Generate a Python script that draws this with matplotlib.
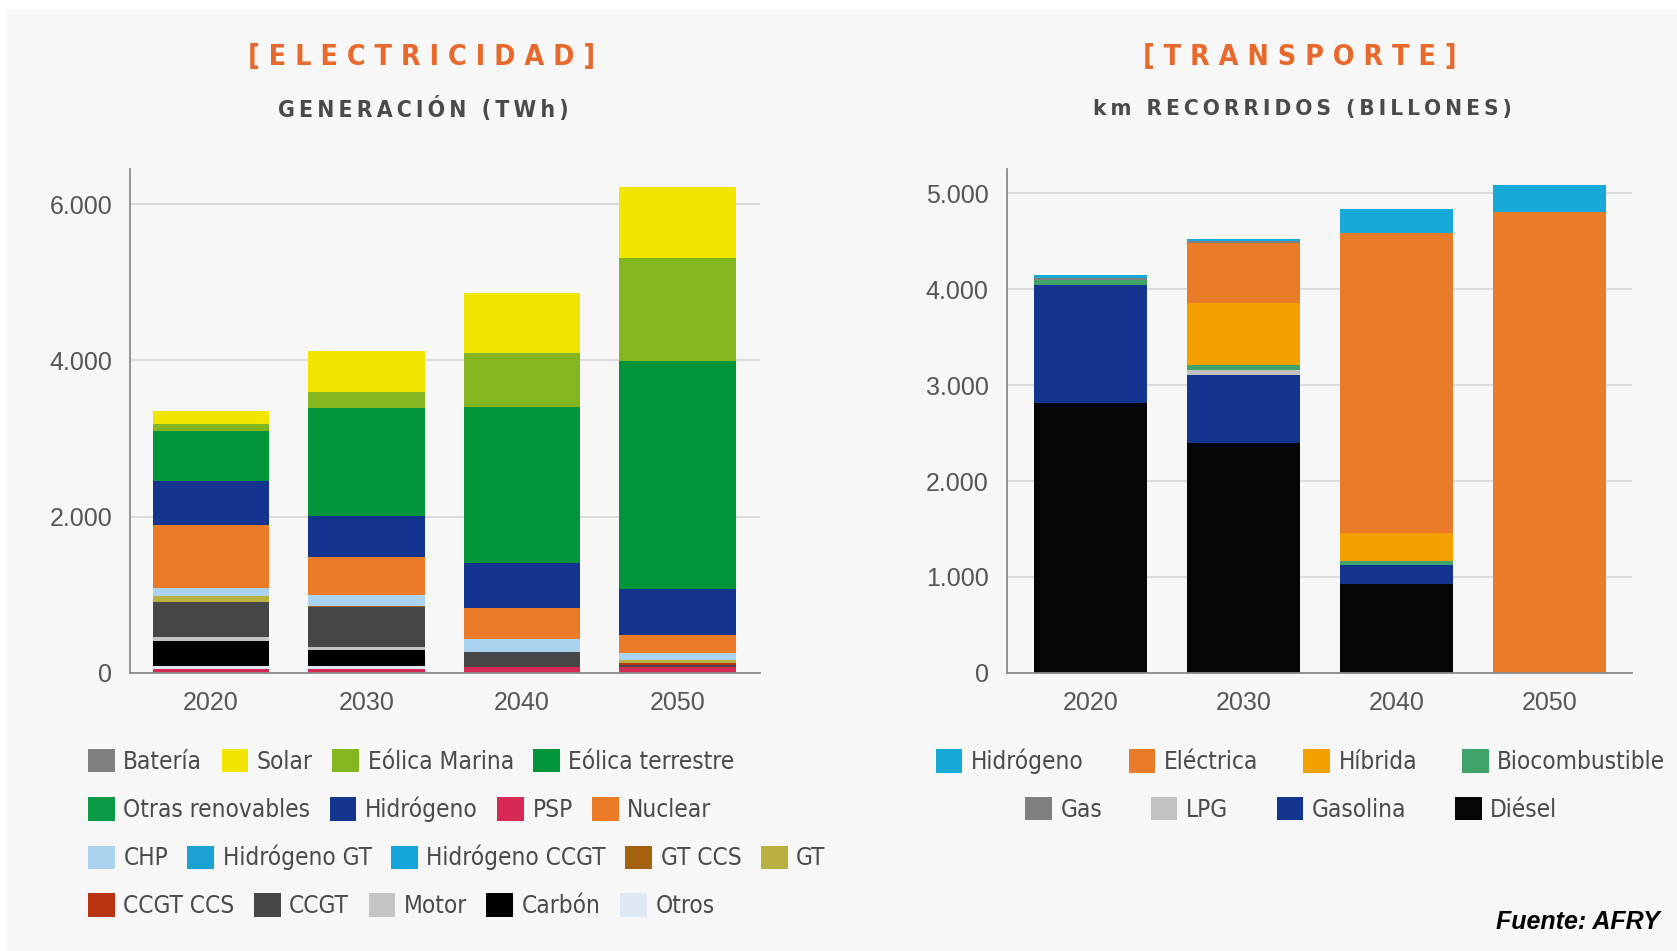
import matplotlib
matplotlib.use("Agg")
import matplotlib.pyplot as plt
from matplotlib.patches import Patch, Rectangle
from matplotlib.ticker import FuncFormatter

years = ["2020", "2030", "2040", "2050"]

# electricidad, generacion TWh (stack order bottom -> top)
psp = [50, 50, 68, 68]
otros = [40, 30, 0, 0]
carbon = [320, 213, 0, 0]
motor = [50, 34, 0, 0]
ccgt = [450, 511, 200, 30]
ccgt_ccs = [0, 0, 0, 30]
gt = [70, 0, 0, 34]
gt_ccs = [0, 21, 0, 0]
h2_ccgt = [0, 0, 0, 0]
h2_gt = [0, 0, 0, 0]
chp = [106, 140, 158, 94]
nuclear = [810, 477, 404, 226]
hidrogeno = [553, 532, 575, 596]
otras_renov = [0, 0, 0, 0]
eolica_terr = [650, 1383, 1992, 2908]
eolica_mar = [85, 200, 702, 1320]
solar = [170, 524, 766, 911]
bateria = [0, 0, 0, 0]

# transporte, km recorridos (billones)
diesel = [2809, 2395, 928, 0]
gasolina = [1237, 712, 191, 0]
lpg = [0, 52, 0, 0]
biocomb = [50, 52, 42, 0]
hibrida = [0, 643, 295, 0]
electrica = [0, 630, 3128, 4810]
gas = [20, 25, 0, 0]
h2_transp = [30, 20, 250, 279]

elec_colors = {
    "Batería": "#808080", "Solar": "#f2e500", "Eólica Marina": "#84b71f",
    "Eólica terrestre": "#00953b", "Otras renovables": "#0a9a45", "Hidrógeno": "#13358f",
    "PSP": "#d62a55", "Nuclear": "#ec7b28", "CHP": "#a9d3ef", "Hidrógeno GT": "#1aa2d5",
    "Hidrógeno CCGT": "#14a6da", "GT CCS": "#a4620f", "GT": "#b9b040",
    "CCGT CCS": "#b8330f", "CCGT": "#464646", "Motor": "#c4c4c4", "Carbón": "#000000",
    "Otros": "#dfe9f4",
}
elec_stack = [
    ("PSP", psp), ("Otros", otros), ("Carbón", carbon), ("Motor", motor), ("CCGT", ccgt),
    ("CCGT CCS", ccgt_ccs), ("GT", gt), ("GT CCS", gt_ccs), ("Hidrógeno CCGT", h2_ccgt),
    ("Hidrógeno GT", h2_gt), ("CHP", chp), ("Nuclear", nuclear), ("Hidrógeno", hidrogeno),
    ("Otras renovables", otras_renov), ("Eólica terrestre", eolica_terr),
    ("Eólica Marina", eolica_mar), ("Solar", solar), ("Batería", bateria),
]
elec_legend_rows = [
    ["Batería", "Solar", "Eólica Marina", "Eólica terrestre"],
    ["Otras renovables", "Hidrógeno", "PSP", "Nuclear"],
    ["CHP", "Hidrógeno GT", "Hidrógeno CCGT", "GT CCS", "GT"],
    ["CCGT CCS", "CCGT", "Motor", "Carbón", "Otros"],
]

transp_colors = {
    "Hidrógeno": "#17aad8", "Eléctrica": "#ea7b28", "Híbrida": "#f4a100",
    "Biocombustible": "#3fa36a", "Gas": "#808080", "LPG": "#c2c2c2",
    "Gasolina": "#13358f", "Diésel": "#050505",
}
transp_stack = [
    ("Diésel", diesel), ("Gasolina", gasolina), ("LPG", lpg), ("Biocombustible", biocomb),
    ("Híbrida", hibrida), ("Eléctrica", electrica), ("Gas", gas), ("Hidrógeno", h2_transp),
]
transp_legend_rows = [
    ["Hidrógeno", "Eléctrica", "Híbrida", "Biocombustible"],
    ["Gas", "LPG", "Gasolina", "Diésel"],
]

plain = ["Liberation Sans", "DejaVu Sans"]
bg = "#f7f7f7"

fig = plt.figure(figsize=(16.77, 9.51), dpi=100, facecolor="white")
fig.patches.append(Rectangle((0.004, 0), 0.996, 0.991, transform=fig.transFigure,
                             facecolor=bg, edgecolor="none", zorder=-10))


def stacked(ax, stack, colors, width):
    x = range(len(years))
    bottom = [0] * len(years)
    for label, vals in stack:
        ax.bar(x, vals, width, bottom=bottom, color=colors[label], linewidth=0, zorder=2)
        bottom = [b + v for b, v in zip(bottom, vals)]


def style(ax, ticks, top, xlim):
    ax.set_facecolor("none")
    ax.set_xlim(*xlim)
    ax.set_ylim(0, top)
    ax.set_yticks(ticks)
    ax.yaxis.set_major_formatter(FuncFormatter(lambda v, p: f"{int(v):,}".replace(",", ".")))
    ax.set_xticks(range(len(years)))
    ax.set_xticklabels(years)
    ax.grid(axis="y", color="#d6d6d6", linewidth=1.2, zorder=0)
    ax.set_axisbelow(True)
    for s in ["top", "right"]:
        ax.spines[s].set_visible(False)
    for s in ["left", "bottom"]:
        ax.spines[s].set_color("#8a8a8a")
        ax.spines[s].set_linewidth(1.3)
    ax.tick_params(length=0, pad=13, labelsize=18, labelcolor="#555555")
    for t in ax.get_xticklabels() + ax.get_yticklabels():
        t.set_family(plain)


ax1 = fig.add_axes([0.0776, 0.2926, 0.3756, 0.5297])
stacked(ax1, elec_stack, elec_colors, 0.75)
style(ax1, [0, 2000, 4000, 6000], 6450, (-0.52, 3.53))

ax2 = fig.add_axes([0.6003, 0.2926, 0.3729, 0.5297])
stacked(ax2, transp_stack, transp_colors, 0.74)
style(ax2, [0, 1000, 2000, 3000, 4000, 5000], 5255, (-0.55, 3.54))


def legend_row(labels, colors, x, y, loc, spacing):
    handles = [Patch(facecolor=colors[l], edgecolor="none") for l in labels]
    fig.legend(handles, labels, loc=loc, bbox_to_anchor=(x, y), ncol=len(labels),
               frameon=False,
               prop={"family": "DejaVu Sans", "stretch": "condensed", "size": 17.5},
               labelcolor="#4a4a4a", handlelength=1.1, handleheight=1.1,
               handletextpad=0.35, columnspacing=spacing, borderpad=0, borderaxespad=0)


row_y = [0.1993, 0.1487, 0.0981, 0.0474]
for i, row in enumerate(elec_legend_rows):
    legend_row(row, elec_colors, 0.0525, row_y[i], "center left", 0.8)
legend_row(transp_legend_rows[0], transp_colors, 0.7755, row_y[0], "center", 1.85)
legend_row(transp_legend_rows[1], transp_colors, 0.770, row_y[1], "center", 2.0)


def spaced(s, gap):
    return gap.join(s)


title_kw = dict(ha="center", va="center", family="DejaVu Sans", fontstretch="condensed",
                weight="bold")
fig.text(0.2516, 0.940, spaced("[ELECTRICIDAD]", " "), size=20.5, color="#e8692c", **title_kw)
fig.text(0.2522, 0.885, spaced("GENERACIÓN (TWh)", "\u2009"), size=16.5, color="#4a4a4a",
         **title_kw)
fig.text(0.7749, 0.940, spaced("[TRANSPORTE]", " "), size=20.5, color="#e8692c", **title_kw)
fig.text(0.7764, 0.885, spaced("km RECORRIDOS (BILLONES)", "\u2009"), size=16.2,
         color="#4a4a4a", **title_kw)

fig.text(0.990, 0.030, "Fuente: AFRY", ha="right", va="center", family=plain,
         weight="bold", style="italic", size=18, color="black")

fig.savefig("out.png", dpi=100, facecolor=fig.get_facecolor())
